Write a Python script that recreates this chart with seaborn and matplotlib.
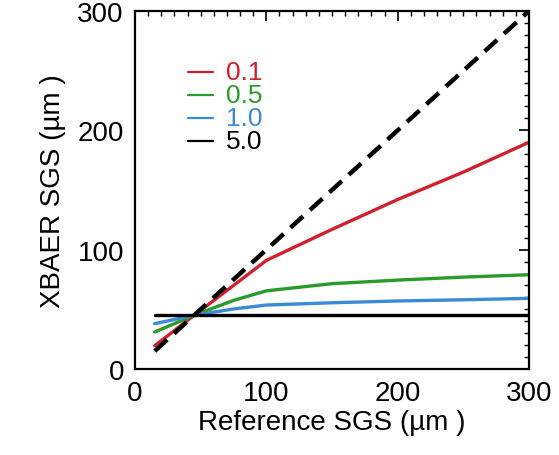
import numpy as np
import pandas as pd
import seaborn as sns
import matplotlib
matplotlib.use("Agg")
import matplotlib.pyplot as plt
from matplotlib.ticker import MultipleLocator
from matplotlib.transforms import ScaledTranslation

# ---- data ----
x_ref = [15, 45, 75, 100, 150, 200, 250, 300]
red_01 = [19.5, 45, 70, 91, 117, 142, 165, 190]
green_05 = [31, 45, 57.5, 65.5, 71.5, 74.5, 77, 79]
blue_10 = [38, 45, 50.3, 53.6, 55.5, 57, 58, 59.2]
black_50 = [45, 45, 45, 45, 45, 45, 45, 45]
one_to_one_x = [15, 300]
labels = ["0.1", "0.5", "1.0", "5.0"]
colors = ["#d0202c", "#2a9a2a", "#3a8ad6", "#000000"]

series = [red_01, green_05, blue_10, black_50]
df = pd.concat([pd.DataFrame({"x": x_ref, "y": s, "g": lab}) for s, lab in zip(series, labels)])

sns.set_style("white")
plt.rcParams["font.family"] = ["Liberation Sans", "DejaVu Sans"]
plt.rcParams.update({"text.color": "black", "axes.labelcolor": "black",
                     "xtick.color": "black", "ytick.color": "black"})

fig = plt.figure(figsize=(5.59, 4.56), dpi=100)
ax = fig.add_axes([135/559, 1-370/456, (529-135)/559, (370-12)/456])

sns.lineplot(data=df, x="x", y="y", hue="g", palette=dict(zip(labels, colors)),
             linewidth=2.4, legend=False, ax=ax, sort=False)
sns.lineplot(x=one_to_one_x, y=one_to_one_x, color="black", linewidth=3.2,
             dashes=False, ax=ax)
ax.lines[-1].set_dashes([3.8, 2.1])

ax.set_xlim(0, 300)
ax.set_ylim(0, 300)
ax.xaxis.set_major_locator(MultipleLocator(100))
ax.yaxis.set_major_locator(MultipleLocator(100))
ax.xaxis.set_minor_locator(MultipleLocator(10))
ax.yaxis.set_minor_locator(MultipleLocator(10))
ax.tick_params(which="both", direction="in", top=True, right=True, colors="black")
ax.tick_params(which="major", length=7, width=1.2, labelsize=20, pad=8)
ax.tick_params(which="minor", length=3.5, width=1.0)
for sp in ax.spines.values():
    sp.set_linewidth(1.6)
    sp.set_color("black")

ax.set_xlabel("Reference SGS (\u00b5m )", fontsize=20, labelpad=2, color="black")
ax.set_ylabel("XBAER SGS (\u00b5m )", fontsize=20, labelpad=8, color="black")

# shift the "0" y tick label up slightly (IDL style)
fig.canvas.draw()
ylabs = ax.get_yticklabels()
ylabs[0].set_transform(ylabs[0].get_transform() + ScaledTranslation(0, 6/72, fig.dpi_scale_trans))

# legend drawn manually
y0 = 1 - (72.7 - 12) / 358
dy = 23.2 / 358
for i, (lab, c) in enumerate(zip(labels, colors)):
    yy = y0 - i * dy
    ax.plot([(188-135)/394, (213-135)/394], [yy, yy], color=c, lw=1.6, transform=ax.transAxes)
    ax.text((226-135)/394, yy, lab, color=c, fontsize=19, va="center", ha="left",
            transform=ax.transAxes)

fig.savefig("out.png", dpi=100)
